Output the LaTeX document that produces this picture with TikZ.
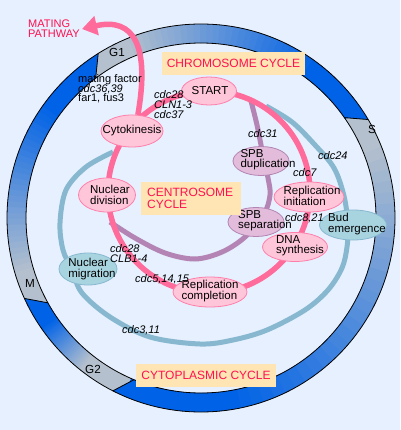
\documentclass[tikz,border=0pt]{standalone}
\usepackage{fontspec}
\setmainfont{Liberation Sans}
\usetikzlibrary{shapes.geometric,arrows.meta,calc}
\definecolor{bgc}{HTML}{E6F0FE}
\definecolor{ringgray}{HTML}{B4C0CE}
\definecolor{ringblue}{HTML}{0062E6}
\definecolor{pinkline}{HTML}{FF6B9A}
\definecolor{pinkfill}{HTML}{FFC6DA}
\definecolor{pinkborder}{HTML}{FF7FAA}
\definecolor{mauveline}{HTML}{B384B4}
\definecolor{mauvefill}{HTML}{E2BCDA}
\definecolor{tealline}{HTML}{88B8D0}
\definecolor{tealfill}{HTML}{A8D4E0}
\definecolor{boxfill}{HTML}{FFE4B4}
\definecolor{redtxt}{HTML}{FF1050}
\begin{document}
\begin{tikzpicture}[x=1pt,y=1pt,
  every node/.style={font=\fontsize{11.5}{10.3}\selectfont, inner sep=0pt},
  pinknode/.style={ellipse, draw=pinkborder, fill=pinkfill, line width=0.8pt},
  mauvenode/.style={ellipse, draw=mauveline, fill=mauvefill, line width=0.8pt},
  tealnode/.style={ellipse, draw=tealline, fill=tealfill, line width=0.8pt},
  ntext/.style={align=left},
  gene/.style={anchor=base west, font=\fontsize{11}{10}\selectfont\itshape},
  plain/.style={anchor=base west, font=\fontsize{11}{10}\selectfont},
  lbox/.style={fill=boxfill, text=redtxt, font=\fontsize{12}{11}\selectfont},
  redtext/.style={text=redtxt, font=\fontsize{12}{11.5}\selectfont},
  pinkpath/.style={draw=pinkline, line width=5.5pt},
  mauvepath/.style={draw=mauveline, line width=5pt},
  tealpath/.style={draw=tealline, line width=5pt},
  phase/.style={font=\fontsize{11.7}{10}\selectfont}
]
\useasboundingbox (0,0) rectangle (400,-430);
\fill[bgc] (0,0) rectangle (400,-430);

% ---- cell cycle ring ----
\coordinate (C) at (201,-218);
\fill[ringgray, even odd rule] (C) circle[radius=194] (C) circle[radius=175];
\foreach \segS/\segE in {198/127, 114/35, 25/-112.5, -128/-151}{
  \foreach \i in {0,...,39}{
    \pgfmathsetmacro\angA{\segS+(\segE-\segS)*\i/40}
    \pgfmathsetmacro\angB{\segS+(\segE-\segS)*(\i+1.3)/40}
    \pgfmathtruncatemacro\pc{min(100,100*\i/30)}
    \fill[ringblue!\pc!ringgray] ($(C)+(\angA:175)$) arc[start angle=\angA, end angle=\angB, radius=175]
      -- ($(C)+(\angB:194)$) arc[start angle=\angB, end angle=\angA, radius=194] -- cycle;
  }
}
% arrow tips: slanted cut, outer edge leading
\foreach \tb/\te in {127/122, 35/30.5, -112.5/-117, -151/-155.5}{
  \fill[ringblue] ($(C)+(\tb:194)$) arc[start angle=\tb, end angle=\te, radius=194]
     -- ($(C)+(\tb:175)$) -- cycle;
  \draw[line width=0.8pt] ($(C)+(\te:194)$) -- ($(C)+(\tb:175)$);
}
\draw[line width=0.8pt] (C) circle[radius=194];
\draw[line width=0.8pt] (C) circle[radius=175];
\node[phase] (g1) at (117,-52) {G1};
\node[phase] (sph) at (372,-129) {S};
\node[phase] (g2) at (93,-369) {G2};
\node[phase] (mph) at (30,-283) {M};

% ---- cytoplasmic cycle (teal) ----
\draw[tealpath] plot[smooth, tension=0.55] coordinates {
  (266,-106) (292,-122) (315,-145) (334,-168) (344,-196) (348,-225) (347,-247)
  (342,-268) (328,-290) (305,-310) (267,-330) (233,-340) (200,-344) (150,-337)
  (110,-317) (82,-293) (72,-270) (63,-250) (60,-223) (66,-190) (86,-167) (113,-152)};

% ---- centrosome cycle (mauve) ----
\draw[mauvepath] plot[smooth, tension=0.55] coordinates {
  (251,-101) (257,-125) (262,-150) (268,-178) (270,-195) (264,-214) (245,-237)
  (222,-252) (195,-259) (165,-253) (135,-238) (110,-222)};

% ---- chromosome cycle (pink) ----
\coordinate (chromc) at (209,-192);
\draw[pinkpath] (chromc) circle[radius=101];

% ---- nodes ----
\node[pinknode, minimum width=55, minimum height=28] (start) at (209,-91) {};
\node[pinknode, minimum width=62, minimum height=32] (cyto) at (132,-131) {};
\node[pinknode, minimum width=57, minimum height=34] (nucdiv) at (107,-195) {};
\node[mauvenode, minimum width=56, minimum height=29] (spbdup) at (261,-161) {};
\node[mauvenode, minimum width=56, minimum height=29] (spbsep) at (256,-222) {};
\node[pinknode, minimum width=70, minimum height=30] (repinit) at (309,-197) {};
\node[pinknode, minimum width=65, minimum height=29] (dna) at (295,-247) {};
\node[tealnode, minimum width=67, minimum height=30] (bud) at (353,-225) {};
\node[tealnode, minimum width=58, minimum height=32] (nucmig) at (88,-269) {};
\node[pinknode, minimum width=74, minimum height=30] (repcomp) at (210,-292) {};

% ---- mating pathway arrow ----
\coordinate (matingtip) at (82,-29);
\draw[pinkpath, -{Triangle[length=15pt,width=19pt]}] (cyto.70) .. controls (150,-46) and (134,-17) .. (matingtip);

% ---- node texts ----
\node[ntext] at (210,-91) {START};
\node[ntext] at (132,-131) {Cytokinesis};
\node[ntext] at (110,-195) {Nuclear\\division};
\node[ntext] at (268,-160) {SPB\\duplication};
\node[ntext] at (265,-221) {SPB\\separation};
\node[ntext] at (312,-196) {Replication\\initiation};
\node[ntext] at (300,-246) {DNA\\synthesis};
\node[ntext] at (357,-224) {Bud\\emergence};
\node[ntext] at (92,-269) {Nuclear\\migration};
\node[ntext] at (210,-291) {Replication\\completion};

% ---- cycle labels ----
\node[lbox, minimum width=143, minimum height=23] (chromlbl) at (233.5,-63.5) {CHROMOSOME CYCLE};
\node[fill=boxfill, minimum width=100, minimum height=33] (centlbl) at (191,-198.5) {};
\node[redtext, anchor=west, align=left] at (147,-198.5) {CENTROSOME\\CYCLE};
\node[lbox, minimum width=140, minimum height=23] (cytolbl) at (206,-375.5) {CYTOPLASMIC CYCLE};

% ---- gene labels ----
\node[plain] at (78,-83) {mating factor};
\node[gene] at (78,-92.5) {cdc36,39};
\node[plain] at (78,-102) {far1, fus3};
\node[gene] at (154,-98.5) {cdc28};
\node[gene] at (154,-108.7) {CLN1-3};
\node[gene] at (154,-118.9) {cdc37};
\node[gene] at (248,-138) {cdc31};
\node[gene] at (293,-177) {cdc7};
\node[gene] at (318,-160) {cdc24};
\node[gene] at (285,-221) {cdc8,21};
\node[gene] at (110,-252) {cdc28};
\node[gene] at (110,-262.3) {CLB1-4};
\node[gene] at (135,-282) {cdc5,14,15};
\node[gene] at (122,-333) {cdc3,11};

% ---- mating pathway text ----
\node[anchor=base west, text=redtxt, font=\fontsize{11}{10}\selectfont] (mating) at (28,-28) {MATING};
\node[anchor=base west, text=redtxt, font=\fontsize{11}{10}\selectfont] (pathway) at (28,-38) {PATHWAY};
\end{tikzpicture}
\end{document}
